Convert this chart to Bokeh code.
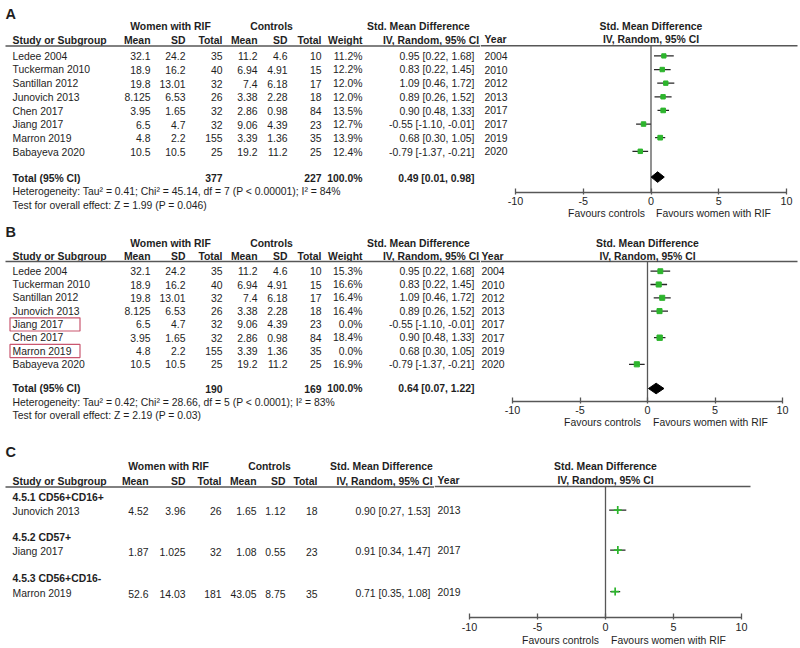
from bokeh.plotting import figure
from bokeh.models import Range1d, LinearAxis, FixedTicker, ColumnDataSource
from bokeh.layouts import column, row
from bokeh.core.properties import value
from bokeh.embed import file_html
from bokeh.resources import INLINE

# ---------------- data: panel A ----------------
studies_A = ["Ledee 2004", "Tuckerman 2010", "Santillan 2012", "Junovich 2013",
             "Chen 2017", "Jiang 2017", "Marron 2019", "Babayeva 2020"]
rif_mean_A = [32.1, 18.9, 19.8, 8.125, 3.95, 6.5, 4.8, 10.5]
rif_sd_A = [24.2, 16.2, 13.01, 6.53, 1.65, 4.7, 2.2, 10.5]
rif_n_A = [35, 40, 32, 26, 32, 32, 155, 25]
ctl_mean_A = [11.2, 6.94, 7.4, 3.38, 2.86, 9.06, 3.39, 19.2]
ctl_sd_A = [4.6, 4.91, 6.18, 2.28, 0.98, 4.39, 1.36, 11.2]
ctl_n_A = [10, 15, 17, 18, 84, 23, 35, 25]
weight_A = [11.2, 12.2, 12.0, 12.0, 13.5, 12.7, 13.9, 12.4]
smd_A = [0.95, 0.83, 1.09, 0.89, 0.90, -0.55, 0.68, -0.79]
lo_A = [0.22, 0.22, 0.46, 0.26, 0.48, -1.10, 0.30, -1.37]
hi_A = [1.68, 1.45, 1.72, 1.52, 1.33, -0.01, 1.05, -0.21]
year_A = [2004, 2010, 2012, 2013, 2017, 2017, 2019, 2020]
totals_n_A = [377, 227]
pooled_A = [0.49, 0.01, 0.98]
het_A = "Heterogeneity: Tau\u00b2 = 0.41; Chi\u00b2 = 45.14, df = 7 (P < 0.00001); I\u00b2 = 84%"
test_A = "Test for overall effect: Z = 1.99 (P = 0.046)"

# ---------------- data: panel B ----------------
studies_B = ["Ledee 2004", "Tuckerman 2010", "Santillan 2012", "Junovich 2013",
             "Jiang 2017", "Chen 2017", "Marron 2019", "Babayeva 2020"]
rif_mean_B = [32.1, 18.9, 19.8, 8.125, 6.5, 3.95, 4.8, 10.5]
rif_sd_B = [24.2, 16.2, 13.01, 6.53, 4.7, 1.65, 2.2, 10.5]
rif_n_B = [35, 40, 32, 26, 32, 32, 155, 25]
ctl_mean_B = [11.2, 6.94, 7.4, 3.38, 9.06, 2.86, 3.39, 19.2]
ctl_sd_B = [4.6, 4.91, 6.18, 2.28, 4.39, 0.98, 1.36, 11.2]
ctl_n_B = [10, 15, 17, 18, 23, 84, 35, 25]
weight_B = [15.3, 16.6, 16.4, 16.4, 0.0, 18.4, 0.0, 16.9]
smd_B = [0.95, 0.83, 1.09, 0.89, -0.55, 0.90, 0.68, -0.79]
lo_B = [0.22, 0.22, 0.46, 0.26, -1.10, 0.48, 0.30, -1.37]
hi_B = [1.68, 1.45, 1.72, 1.52, -0.01, 1.33, 1.05, -0.21]
year_B = [2004, 2010, 2012, 2013, 2017, 2017, 2019, 2020]
excluded_B = ["Jiang 2017", "Marron 2019"]
totals_n_B = [190, 169]
pooled_B = [0.64, 0.07, 1.22]
het_B = "Heterogeneity: Tau\u00b2 = 0.42; Chi\u00b2 = 28.66, df = 5 (P < 0.0001); I\u00b2 = 83%"
test_B = "Test for overall effect: Z = 2.19 (P = 0.03)"

# ---------------- data: panel C ----------------
subgroups_C = ["4.5.1 CD56+CD16+", "4.5.2 CD57+", "4.5.3 CD56+CD16-"]
studies_C = ["Junovich 2013", "Jiang 2017", "Marron 2019"]
rif_mean_C = [4.52, 1.87, 52.6]
rif_sd_C = [3.96, 1.025, 14.03]
rif_n_C = [26, 32, 181]
ctl_mean_C = [1.65, 1.08, 43.05]
ctl_sd_C = [1.12, 0.55, 8.75]
ctl_n_C = [18, 23, 35]
smd_C = [0.90, 0.91, 0.71]
lo_C = [0.27, 0.34, 0.35]
hi_C = [1.53, 1.47, 1.08]
year_C = [2013, 2017, 2019]

axis_ticks = [-10, -5, 0, 5, 10]
fav_left = "Favours controls"
fav_right = "Favours women with RIF"

# ---------------- style ----------------
FONT = "Liberation Sans"
FS = "10.4px"
TXT = "#1e1e1e"
GRAY = "#575757"
GREEN = "#2db52d"
BOX = "#c9566f"
PAGE_R = 800


def ci_text(e, l, h):
    return f"{e:.2f} [{l:.2f}, {h:.2f}]"


def add_text(p, xs, ys, texts, align="left", bold=False, rng="default", size=FS):
    src = ColumnDataSource(dict(x=list(xs), y=list(ys), t=[str(t) for t in texts]))
    p.text(x="x", y="y", text="t", source=src, text_align=align, text_baseline="middle",
           text_font=value(FONT), text_font_size=size,
           text_font_style="bold" if bold else "normal", text_color=TXT,
           x_range_name=rng)


def base_fig(w, h, xr, yr, bb):
    p = figure(width=int(w), height=int(h), x_range=xr, y_range=yr,
               x_axis_type=None, y_axis_type=None, output_backend="svg",
               toolbar_location=None, min_border=0, min_border_bottom=int(bb))
    p.outline_line_color = None
    p.frame_align = False
    return p


def left_fig(L):
    p = base_fig(L["split"], L["bottom"] - L["top"], Range1d(0, L["split"]),
                 Range1d(L["bottom"], L["top"]), 0)
    add_text(p, [5], [L["letter_y"]], [L["letter"]], bold=True, size="14.5px")
    c = L["cols"]
    add_text(p, [c["women"], c["ctl"], c["smd"]], [L["grp_y"]] * 3,
             ["Women with RIF", "Controls", "Std. Mean Difference"], align="center", bold=True)
    keys = ["mean", "sd", "n", "cmean", "csd", "cn"]
    labels = ["Mean", "SD", "Total", "Mean", "SD", "Total"]
    if "w" in c:
        keys.append("w")
        labels.append("Weight")
    add_text(p, [c[k] for k in keys], [L["col_y"]] * len(keys), labels, align="right", bold=True)
    add_text(p, [c["name"]], [L["col_y"]], ["Study or Subgroup"], bold=True)
    add_text(p, [c["iv"]], [L["col_y"]], ["IV, Random, 95% CI"], align="center", bold=True)
    p.segment(x0=[5], x1=[L["split"]], y0=[L["hline_y"]], y1=[L["hline_y"]],
              line_color=GRAY, line_width=1.5)
    return p


def right_fig(L):
    zero, s, split = L["zero"], L["s"], L["split"]
    xr = Range1d((split - zero) / s, (PAGE_R - zero) / s)
    p = base_fig(PAGE_R - split, L["bottom"] - L["top"], xr,
                 Range1d(L["axis_y"], L["top"]), L["bottom"] - L["axis_y"])
    p.extra_x_ranges = {"px": Range1d(split, PAGE_R)}
    p.segment(x0=[split], x1=[L["hline_end"]], y0=[L["hline_y"]], y1=[L["hline_y"]],
              x_range_name="px", line_color=GRAY, line_width=1.5)
    p.segment(x0=[0], x1=[0], y0=[L["hline_y"]], y1=[L["axis_y"]],
              line_color=GRAY, line_width=1.3)
    add_text(p, [0, 0], [L["grp_y"], L["col_y"]],
             ["Std. Mean Difference", "IV, Random, 95% CI"], align="center", bold=True)
    add_text(p, [L["year_x"]], [L["col_y"]], ["Year"], bold=True, rng="px")
    ax = LinearAxis(bounds=(-10, 10), ticker=FixedTicker(ticks=axis_ticks),
                    major_label_overrides={t: str(t) for t in axis_ticks})
    ax.axis_line_color = GRAY
    ax.axis_line_width = 1.3
    ax.major_tick_line_color = GRAY
    ax.major_tick_line_width = 1.3
    ax.major_tick_in = 4
    ax.major_tick_out = 2
    ax.minor_tick_line_color = None
    ax.major_label_standoff = L["tick_sb"]
    ax.major_label_text_font = FONT
    ax.major_label_text_font_size = "10.8px"
    ax.major_label_text_color = TXT
    p.add_layout(ax, "below")
    cl, cr = int(round(zero - 44.5)), int(round(zero + 62.5))
    ax2 = LinearAxis(x_range_name="px", ticker=FixedTicker(ticks=[cl, cr]),
                     major_label_overrides={cl: fav_left, cr: fav_right})
    ax2.axis_line_color = None
    ax2.major_tick_line_color = None
    ax2.minor_tick_line_color = None
    ax2.major_tick_in = 0
    ax2.major_tick_out = 0
    ax2.major_label_standoff = L["fav_sb"]
    ax2.major_label_text_font = FONT
    ax2.major_label_text_font_size = FS
    ax2.major_label_text_color = TXT
    p.add_layout(ax2, "below")
    return p


def study_table(p, c, ys, names, m1, s1, n1, m2, s2, n2, est, lo, hi, w=None):
    add_text(p, [c["name"]] * len(ys), ys, names)
    for key, vals in (("mean", m1), ("sd", s1), ("n", n1), ("cmean", m2), ("csd", s2), ("cn", n2)):
        add_text(p, [c[key]] * len(ys), ys, vals, align="right")
    if w is not None:
        add_text(p, [c["w"]] * len(ys), ys, [f"{v:.1f}%" for v in w], align="right")
    add_text(p, [c["ci"]] * len(ys), ys, [ci_text(e, l, h) for e, l, h in zip(est, lo, hi)],
             align="right")


def forest_rows(p, ys, est, lo, hi, w=None, marker="square"):
    keep = [i for i in range(len(ys)) if w is None or w[i] > 0]
    src = ColumnDataSource(dict(
        y=[ys[i] for i in keep], e=[est[i] for i in keep],
        lo=[lo[i] for i in keep], hi=[hi[i] for i in keep],
        size=[(2.6 + 0.15 * w[i]) if w is not None else 8 for i in keep]))
    p.segment(x0="lo", x1="hi", y0="y", y1="y", source=src, line_color="#262626", line_width=1.3)
    if marker == "square":
        p.scatter(x="e", y="y", size="size", marker="square", source=src,
                  fill_color=GREEN, line_color=GREEN)
    else:
        p.scatter(x="e", y="y", size="size", marker="cross", source=src,
                  line_color=GREEN, line_width=1.7)


def total_block(pl, pr, L, c, totals_n, pooled, het, test, weight=True):
    y = L["tot_y"]
    add_text(pl, [c["name"]], [y], ["Total (95% CI)"], bold=True)
    add_text(pl, [c["n"], c["cn"]], [y, y], totals_n, align="right", bold=True)
    if weight:
        add_text(pl, [c["w"]], [y], ["100.0%"], align="right", bold=True)
    add_text(pl, [c["ci"]], [y], [ci_text(*pooled)], align="right", bold=True)
    add_text(pl, [c["name"], c["name"]], [L["het_y"], L["test_y"]], [het, test])
    e, lo, hi = pooled
    h = 5.3
    pr.patch(x=[lo, e, hi, e], y=[y, y - h, y, y + h], fill_color="black", line_color="black")


# ---------------- layout constants (page pixels) ----------------
cols_AB = dict(name=12, mean=150, sd=185, n=222, cmean=257, csd=287, cn=321, w=362, ci=474,
               women=170, ctl=271, smd=418, iv=430.5)
cols_C = dict(name=12, mean=148, sd=185, n=221, cmean=256, csd=285, cn=317, ci=430,
              women=168, ctl=269, smd=381, iv=384)

LA = dict(letter="A", top=0, bottom=221, split=480, zero=650.5, s=13.55, letter_y=13.3,
          grp_y=26, col_y=39.5, hline_y=45.5, hline_end=797, row0=55.7, dy=13.7,
          tot_y=177.5, het_y=191, test_y=205, axis_y=193, year_x=484, tick_sb=2, fav_sb=0,
          cols=cols_AB)
LB = dict(letter="B", top=221, bottom=437, split=480, zero=647, s=13.5, letter_y=231.7,
          grp_y=243, col_y=256, hline_y=261, hline_end=797, row0=270.7, dy=13.3,
          tot_y=388, het_y=401.5, test_y=415, axis_y=401, year_x=481, tick_sb=2, fav_sb=0,
          cols=cols_AB)
LC = dict(letter="C", top=437, bottom=648, split=434, zero=605, s=13.6, letter_y=451.7,
          grp_y=466, col_y=480.5, hline_y=486.5, hline_end=750, sub_y=[496.5, 537, 578],
          study_y=[510.5, 551, 593], axis_y=619.3, year_x=437, tick_sb=3, fav_sb=1,
          cols=cols_C)

# ---------------- panel A ----------------
la, ra = left_fig(LA), right_fig(LA)
ys_A = [LA["row0"] + i * LA["dy"] for i in range(len(studies_A))]
study_table(la, cols_AB, ys_A, studies_A, rif_mean_A, rif_sd_A, rif_n_A,
            ctl_mean_A, ctl_sd_A, ctl_n_A, smd_A, lo_A, hi_A, weight_A)
add_text(ra, [LA["year_x"]] * len(ys_A), ys_A, year_A, rng="px")
forest_rows(ra, ys_A, smd_A, lo_A, hi_A, weight_A)
total_block(la, ra, LA, cols_AB, totals_n_A, pooled_A, het_A, test_A)

# ---------------- panel B ----------------
lb, rb = left_fig(LB), right_fig(LB)
ys_B = [LB["row0"] + i * LB["dy"] for i in range(len(studies_B))]
study_table(lb, cols_AB, ys_B, studies_B, rif_mean_B, rif_sd_B, rif_n_B,
            ctl_mean_B, ctl_sd_B, ctl_n_B, smd_B, lo_B, hi_B, weight_B)
add_text(rb, [LB["year_x"]] * len(ys_B), ys_B, year_B, rng="px")
forest_rows(rb, ys_B, smd_B, lo_B, hi_B, weight_B)
total_block(lb, rb, LB, cols_AB, totals_n_B, pooled_B, het_B, test_B)
ex_y = [ys_B[studies_B.index(n)] for n in excluded_B]
lb.quad(left=[9.5] * len(ex_y), right=[79.5] * len(ex_y),
        top=[y - 6.6 for y in ex_y], bottom=[y + 6.6 for y in ex_y],
        fill_color=None, line_color=BOX, line_width=1.2)

# ---------------- panel C ----------------
lc, rc = left_fig(LC), right_fig(LC)
add_text(lc, [cols_C["name"]] * 3, LC["sub_y"], subgroups_C, bold=True)
study_table(lc, cols_C, LC["study_y"], studies_C, rif_mean_C, rif_sd_C, rif_n_C,
            ctl_mean_C, ctl_sd_C, ctl_n_C, smd_C, lo_C, hi_C)
add_text(rc, [LC["year_x"]] * 3, LC["study_y"], year_C, rng="px")
forest_rows(rc, LC["study_y"], smd_C, lo_C, hi_C, None, marker="cross")

layout = column(row(la, ra), row(lb, rb), row(lc, rc))
open("out.html", "w").write(file_html(layout, INLINE))
